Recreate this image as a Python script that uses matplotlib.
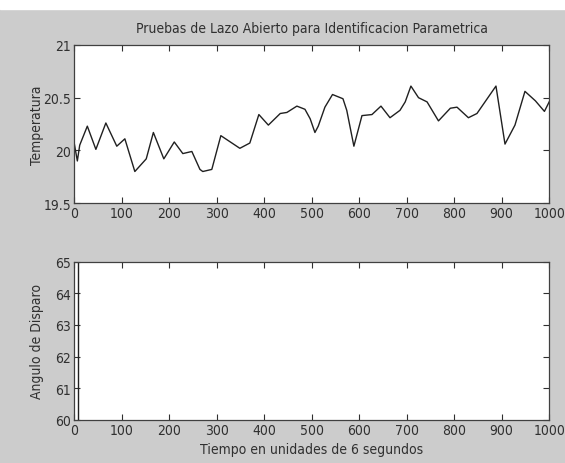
import matplotlib
matplotlib.use("Agg")
import matplotlib.pyplot as plt
from matplotlib.patches import Rectangle

# temperatura (tiempo en unidades de 6 s)
tiempo = [0, 7, 12, 28, 46, 67, 90, 107, 128, 152, 167, 189, 211, 229, 248,
          265, 271, 290, 309, 349, 370, 389, 409, 434, 448, 469, 486, 497,
          507, 514, 528, 544, 566, 574, 589, 606, 627, 646, 665, 686, 697,
          709, 725, 743, 767, 792, 806, 830, 848, 888, 907, 928, 949, 971,
          990, 1000]
temperatura = [20.08, 19.90, 20.05, 20.23, 20.01, 20.26, 20.04, 20.11, 19.80,
               19.92, 20.17, 19.92, 20.08, 19.97, 19.99, 19.82, 19.80, 19.82,
               20.14, 20.02, 20.07, 20.34, 20.24, 20.35, 20.36, 20.42, 20.39,
               20.30, 20.17, 20.23, 20.41, 20.53, 20.49, 20.38, 20.04, 20.33,
               20.34, 20.42, 20.31, 20.38, 20.46, 20.61, 20.50, 20.46, 20.28,
               20.40, 20.41, 20.31, 20.35, 20.61, 20.06, 20.24, 20.56, 20.47,
               20.37, 20.46]

# angulo de disparo: salta fuera de escala casi al inicio
tiempo_ang = [8, 8, 1000]
angulo = [0, 100, 100]

fondo = "#cccccc"
plt.rcParams["font.family"] = ["DejaVu Sans"]
plt.rcParams["font.stretch"] = "condensed"
plt.rcParams["font.size"] = 10

fig = plt.figure(figsize=(5.65, 4.64), dpi=100, facecolor=fondo)
fig.patches.append(Rectangle((0, 1 - 10 / 464), 1, 10 / 464,
                             transform=fig.transFigure, color="white",
                             zorder=-1))

ax1 = fig.add_axes([0.131, 0.560, 0.841, 0.341])
ax2 = fig.add_axes([0.131, 0.093, 0.841, 0.341])

ax1.plot(tiempo, temperatura, color="#202020", lw=1.0)
ax1.set_xlim(0, 1000)
ax1.set_ylim(19.5, 21)
ax1.set_yticks([19.5, 20, 20.5, 21])
ax1.set_yticklabels(["19.5", "20", "20.5", "21"])
ax1.set_ylabel("Temperatura", color="#303030")
ax1.set_title("Pruebas de Lazo Abierto para Identificacion Parametrica",
              fontsize=10, pad=9, color="#303030")

ax2.plot(tiempo_ang, angulo, color="#202020", lw=1.0)
ax2.set_xlim(0, 1000)
ax2.set_ylim(60, 65)
ax2.set_yticks(range(60, 66))
ax2.set_ylabel("Angulo de Disparo", color="#303030")
ax2.set_xlabel("Tiempo en unidades de 6 segundos", labelpad=4,
               color="#303030")

for ax in (ax1, ax2):
    ax.set_xticks(range(0, 1001, 100))
    ax.yaxis.set_label_coords(-0.064, 0.5)
    ax.tick_params(direction="in", length=4, width=0.8, top=True,
                   right=True, labelsize=10, colors="#303030", pad=2)
    for s in ax.spines.values():
        s.set_linewidth(0.9)
        s.set_color("#404040")

fig.savefig("out.png", dpi=100, facecolor=fondo)
